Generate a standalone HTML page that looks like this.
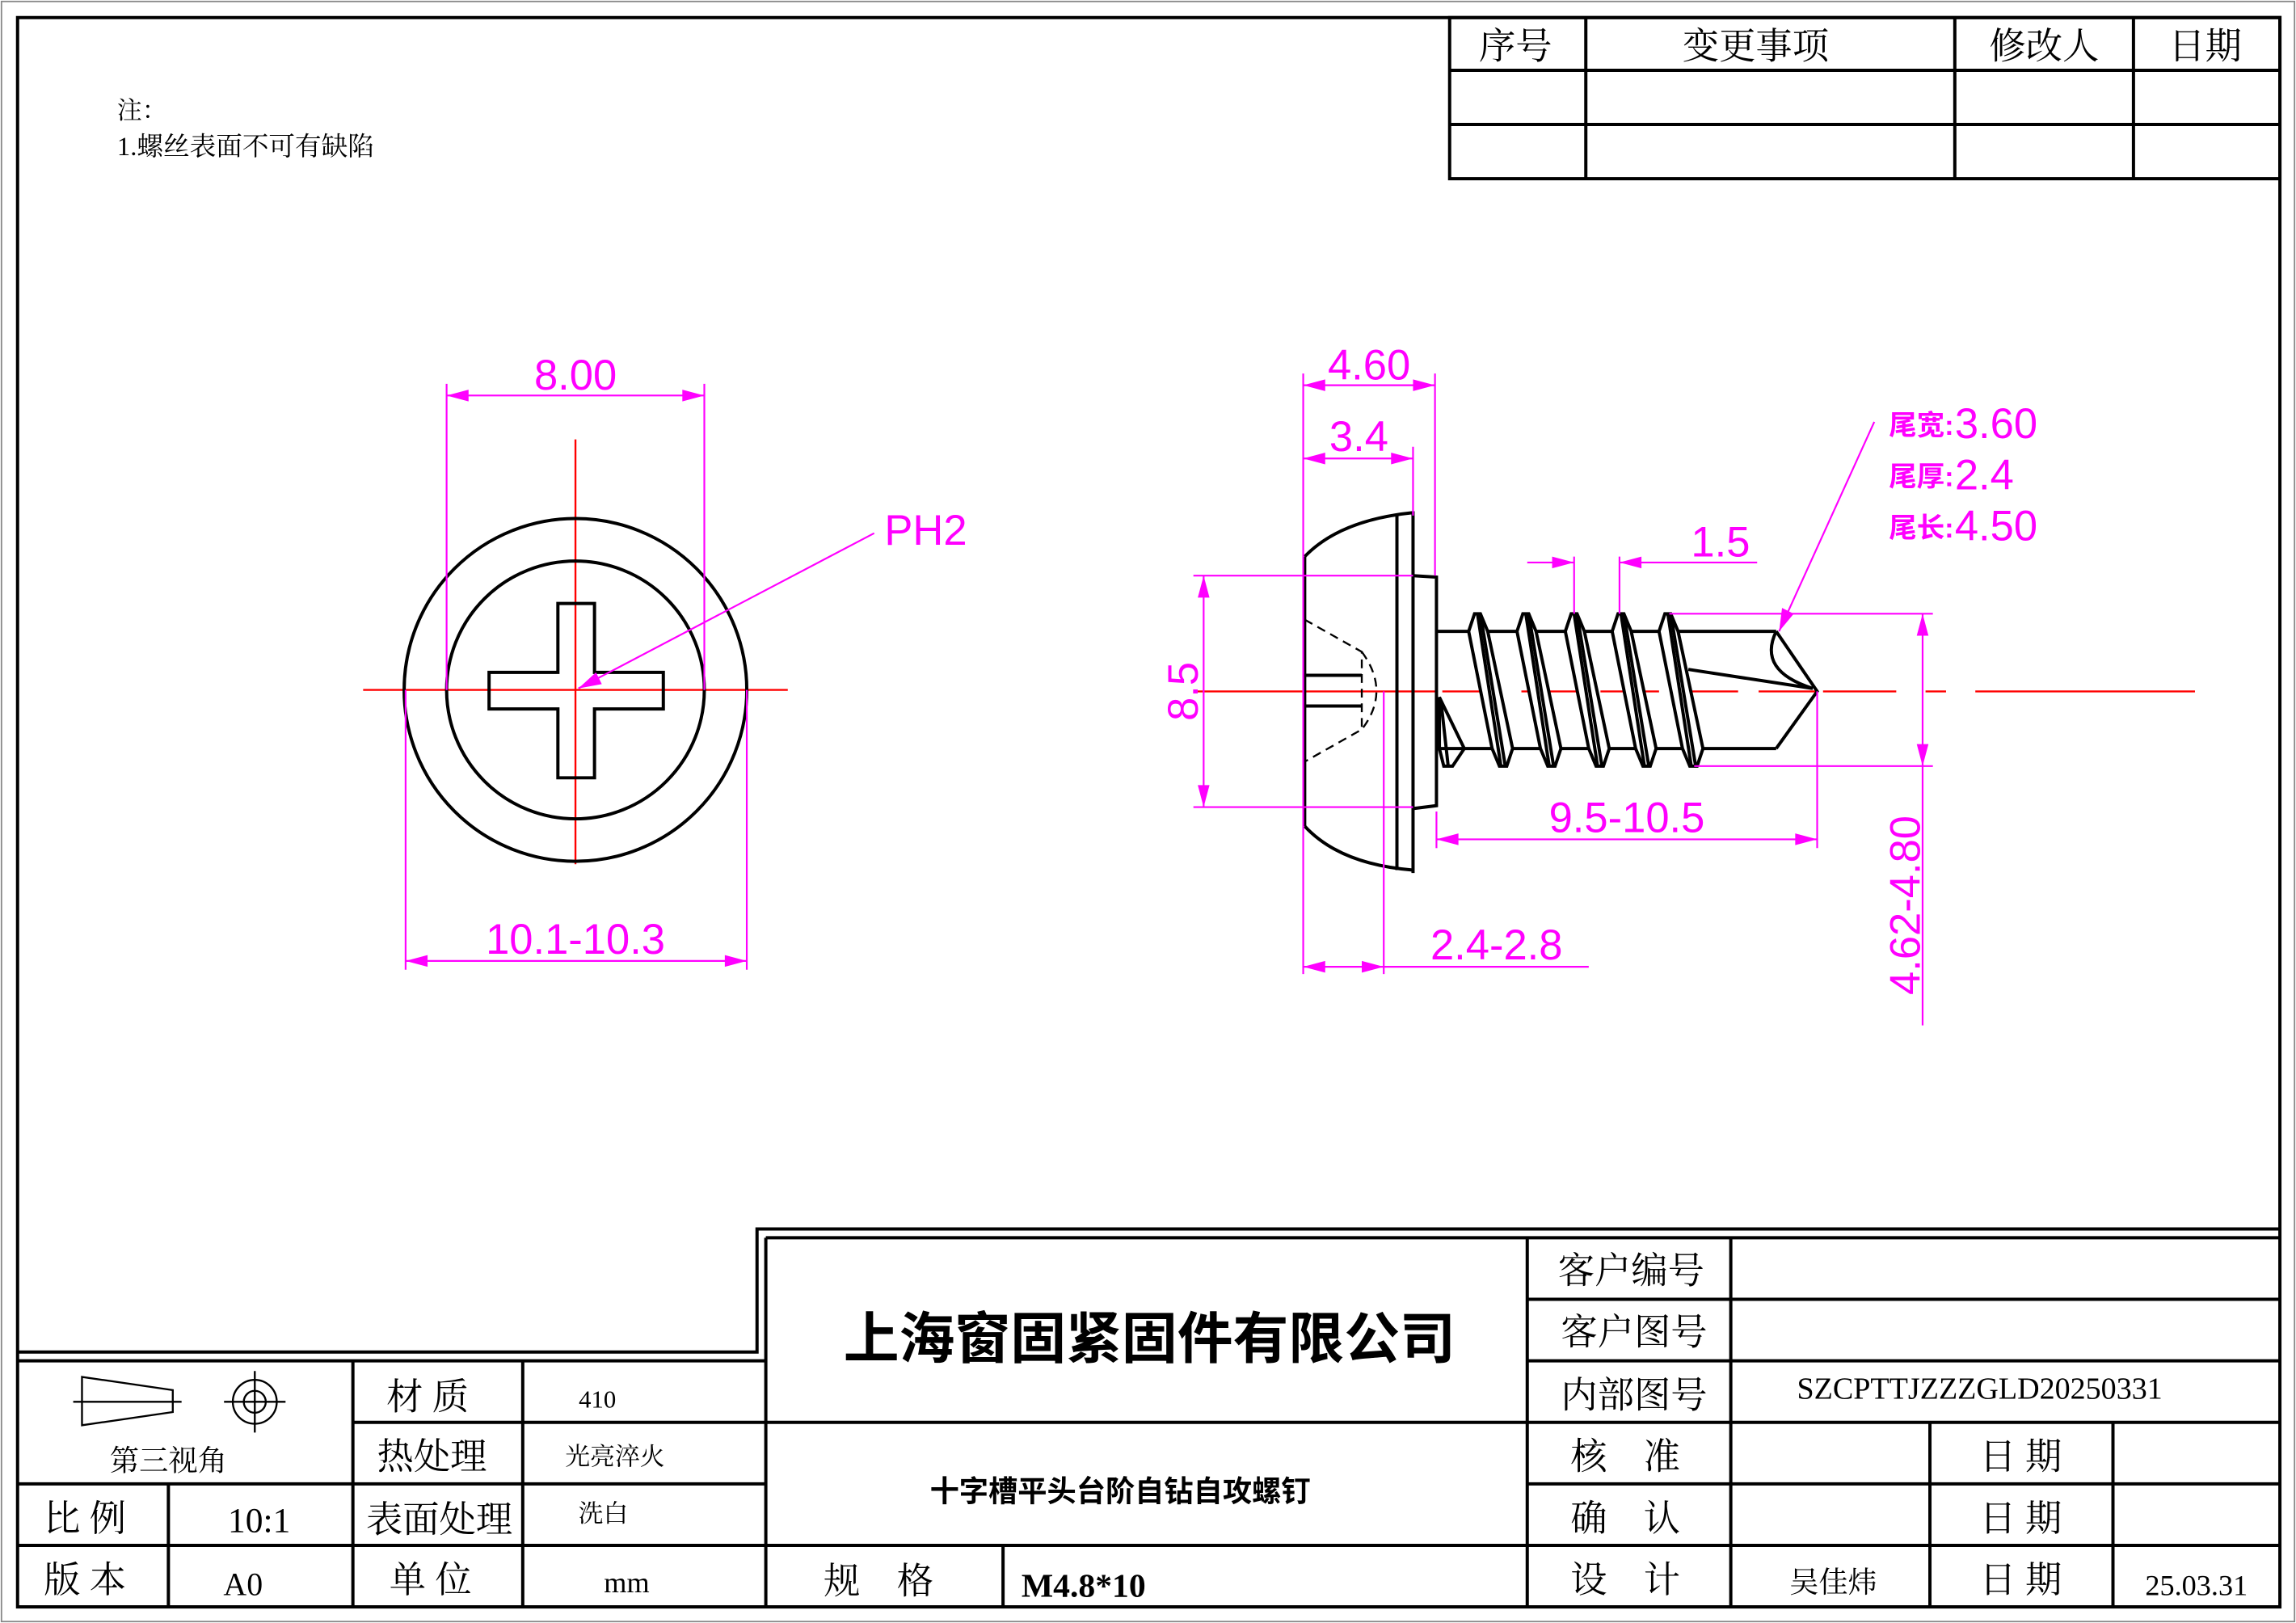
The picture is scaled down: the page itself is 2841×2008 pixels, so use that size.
<!DOCTYPE html>
<html><head><meta charset="utf-8"><style>
html,body{margin:0;padding:0;background:#fff;}
svg{display:block;}
.k{stroke:#000;fill:none;stroke-width:2.2;}
.kt{stroke:#000;fill:none;stroke-width:1.3;}
.m{stroke:#f0f;fill:none;stroke-width:1.2;}
.r{stroke:#f00;fill:none;stroke-width:1.3;}
.mt{fill:#f0f;font-family:"Liberation Sans",sans-serif;font-size:29px;}
.mc{fill:#f0f;font-family:"Liberation Sans","Noto Sans CJK SC",sans-serif;font-size:19px;font-weight:bold;}
.s{font-family:"Liberation Serif","Noto Serif CJK SC",serif;fill:#000;}
.ah{fill:#f0f;stroke:none;}
</style></head><body>
<svg width="2841" height="2008" viewBox="0 0 1568 1108" preserveAspectRatio="none" xmlns="http://www.w3.org/2000/svg">
<rect x="0" y="0" width="1568" height="1108" fill="#fff"/>
<rect x="1" y="1" width="1566" height="1106" fill="none" stroke="#888" stroke-width="1"/>
<rect x="12" y="12" width="1545" height="1085" class="k" stroke-width="2"/>

<!-- revision table -->
<g class="k" stroke-width="2">
<rect x="990" y="12" width="567" height="110"/>
<line x1="990" y1="48" x2="1557" y2="48"/><line x1="990" y1="85" x2="1557" y2="85"/>
<line x1="1083" y1="12" x2="1083" y2="122"/><line x1="1335" y1="12" x2="1335" y2="122"/><line x1="1457" y1="12" x2="1457" y2="122"/>
</g>
<g class="s" font-size="25" text-anchor="middle">
<text x="1035" y="40">序号</text><text x="1199" y="40">变更事项</text><text x="1396" y="40">修改人</text><text x="1506" y="40">日期</text>
</g>
<text class="s" x="80" y="81" font-size="17">注：</text>
<text class="s" x="80" y="106" font-size="18">1.螺丝表面不可有缺陷</text>

<!-- title block -->
<g class="k" stroke-width="2">
<polyline points="12,923 517,923 517,839 1557,839"/>
<line x1="12" y1="929" x2="523" y2="929"/>
<line x1="523" y1="845" x2="1557" y2="845"/>
<line x1="523" y1="845" x2="523" y2="1097"/>
<line x1="12" y1="1097" x2="1557" y2="1097"/>
<line x1="241" y1="971" x2="523" y2="971"/>
<line x1="12" y1="1013" x2="523" y2="1013"/>
<line x1="12" y1="1055" x2="1557" y2="1055"/>
<line x1="115" y1="1013" x2="115" y2="1097"/>
<line x1="241" y1="929" x2="241" y2="1097"/>
<line x1="357" y1="929" x2="357" y2="1097"/>
<line x1="523" y1="971" x2="1557" y2="971"/>
<line x1="685" y1="1055" x2="685" y2="1097"/>
<line x1="1043" y1="845" x2="1043" y2="1097"/>
<line x1="1182" y1="845" x2="1182" y2="1097"/>
<line x1="1318" y1="971" x2="1318" y2="1097"/>
<line x1="1443" y1="971" x2="1443" y2="1097"/>
<line x1="1043" y1="887" x2="1557" y2="887"/>
<line x1="1043" y1="929" x2="1557" y2="929"/>
<line x1="1043" y1="1013" x2="1557" y2="1013"/>
</g>
<!-- third angle symbol -->
<g class="kt" stroke-width="1.4">
<polygon points="56,940 118,949 118,964 56,973"/>
<line x1="50" y1="957" x2="124" y2="957"/>
<circle cx="174" cy="957" r="15"/><circle cx="174" cy="957" r="7.5"/>
<line x1="153" y1="957" x2="195" y2="957"/><line x1="174" y1="936" x2="174" y2="978"/>
</g>
<g class="s" text-anchor="middle">
<text x="115" y="1004" font-size="20">第三视角</text>
<text x="292" y="962" font-size="25">材 质</text>
<text x="408" y="961" font-size="17">410</text>
<text x="295" y="1003" font-size="25">热处理</text>
<text x="420" y="1000" font-size="17">光亮淬火</text>
<text x="58" y="1045" font-size="25">比 例</text>
<text x="177" y="1046" font-size="24">10:1</text>
<text x="300" y="1046" font-size="25">表面处理</text>
<text x="412" y="1039" font-size="17">洗白</text>
<text x="58" y="1087" font-size="25">版 本</text>
<text x="166" y="1089" font-size="22">A0</text>
<text x="294" y="1087" font-size="25">单 位</text>
<text x="428" y="1087" font-size="20">mm</text>
<text x="785" y="927" font-size="38" font-weight="bold" font-family="'Noto Sans CJK SC',sans-serif">上海窗固紧固件有限公司</text>
<text x="765" y="1025" font-size="20" font-weight="bold" font-family="'Noto Sans CJK SC',sans-serif">十字槽平头台阶自钻自攻螺钉</text>
<text x="600" y="1088" font-size="25">规　格</text>
<text x="740" y="1090" font-size="23" font-weight="bold">M4.8*10</text>
<text x="1114" y="876" font-size="25">客户编号</text>
<text x="1116" y="918" font-size="25">客户图号</text>
<text x="1116" y="961" font-size="25">内部图号</text>
<text x="1352" y="955" font-size="21">SZCPTTJZZZGLD20250331</text>
<text x="1110" y="1003" font-size="25">核　准</text>
<text x="1110" y="1045" font-size="25">确　认</text>
<text x="1110" y="1087" font-size="25">设　计</text>
<text x="1380" y="1003" font-size="25">日 期</text>
<text x="1380" y="1045" font-size="25">日 期</text>
<text x="1380" y="1087" font-size="25">日 期</text>
<text x="1252" y="1087" font-size="20">吴佳炜</text>
<text x="1500" y="1089" font-size="20">25.03.31</text>
</g>

<!-- front view -->
<line class="r" x1="248" y1="471" x2="538" y2="471"/>
<line class="r" x1="393" y1="300" x2="393" y2="590"/>
<g class="k">
<circle cx="393" cy="471" r="117"/>
<circle cx="393" cy="471" r="88"/>
<polygon points="381,412 406,412 406,459 453,459 453,484 406,484 406,531 381,531 381,484 334,484 334,459 381,459"/>
</g>
<g class="m">
<line x1="305" y1="262" x2="305" y2="471"/><line x1="481" y1="262" x2="481" y2="471"/>
<line x1="305" y1="270" x2="481" y2="270"/>
<line x1="277" y1="471" x2="277" y2="662"/><line x1="510" y1="471" x2="510" y2="662"/>
<line x1="277" y1="656" x2="510" y2="656"/>
<polyline points="395,470 597,364"/>
</g>
<g class="ah">
<polygon points="305,270 320,266 320,274"/><polygon points="481,270 466,266 466,274"/>
<polygon points="277,656 292,652 292,660"/><polygon points="510,656 495,652 495,660"/>
<polygon points="395,470 407,459 411,467"/>
</g>
<text class="mt" x="393" y="266" text-anchor="middle">8.00</text>
<text class="mt" x="393" y="651" text-anchor="middle">10.1-10.3</text>
<text class="mt" x="604" y="372">PH2</text>

<!-- side view -->
<line class="r" x1="815" y1="472" x2="982" y2="472"/>
<line class="r" x1="985" y1="472" x2="1245" y2="472" stroke-dasharray="40,14"/>
<line class="r" x1="1245" y1="472" x2="1535" y2="472" stroke-dasharray="50,20,14,20,150"/>
<g class="k">
<path d="M891,380 Q915,355 965,350"/>
<path d="M891,564 Q915,590 965,594"/>
<line x1="891" y1="380" x2="891" y2="564"/>
<line x1="954" y1="351" x2="954" y2="594"/>
<line x1="965" y1="349" x2="965" y2="596"/>
<polyline points="965,393 981,394 981,550 965,552"/>
<line x1="891" y1="461" x2="930" y2="461"/><line x1="891" y1="482" x2="930" y2="482"/>
<line x1="981" y1="431" x2="1213" y2="431"/>
<line x1="981" y1="511" x2="1213" y2="511"/>
<polyline points="1213,431 1241,472 1213,511"/>
<path d="M1213,431 Q1200,458 1238,470"/>
<line x1="1153" y1="457" x2="1238" y2="470"/>
<polygon points="983,476 1000,511 992,523 986,523 983,511"/>
<line x1="984" y1="478" x2="989" y2="523"/>
</g>
<g class="kt" stroke-dasharray="6,4" stroke-width="1.5">
<polyline points="891,423 930,445 930,498 891,520"/>
<path d="M930,445 Q950,472 930,498"/>
</g>
<g class="k" stroke-width="2" fill="#fff">
<g id="th">
<polygon points="1003,431 1007,419 1011,419 1016,431 1033,511 1029,523 1024,523 1019,511" fill="#fff"/>
<line x1="1009" y1="419" x2="1025" y2="523"/><line x1="1011" y1="419" x2="1028" y2="523"/>
</g>
<use href="#th" x="33"/><use href="#th" x="66"/><use href="#th" x="98"/><use href="#th" x="130"/>
</g>
<g class="m">
<line x1="890" y1="255" x2="890" y2="665"/><line x1="980" y1="255" x2="980" y2="393"/>
<line x1="890" y1="263" x2="980" y2="263"/>
<line x1="965" y1="305" x2="965" y2="352"/>
<line x1="890" y1="313" x2="965" y2="313"/>
<line x1="815" y1="393" x2="965" y2="393"/><line x1="815" y1="551" x2="965" y2="551"/>
<line x1="822" y1="393" x2="822" y2="551"/>
<line x1="1075" y1="380" x2="1075" y2="419"/><line x1="1106" y1="380" x2="1106" y2="419"/>
<line x1="1043" y1="384" x2="1075" y2="384"/><line x1="1106" y1="384" x2="1200" y2="384"/>
<line x1="981" y1="554" x2="981" y2="579"/><line x1="1241" y1="472" x2="1241" y2="579"/>
<line x1="981" y1="573" x2="1241" y2="573"/>
<line x1="945" y1="472" x2="945" y2="665"/>
<line x1="890" y1="660" x2="1085" y2="660"/>
<line x1="1140" y1="419" x2="1320" y2="419"/><line x1="1157" y1="523" x2="1320" y2="523"/>
<line x1="1313" y1="419" x2="1313" y2="700"/>
<line x1="1280" y1="288" x2="1215" y2="431"/>
</g>
<g class="ah">
<polygon points="890,263 905,259 905,267"/><polygon points="980,263 965,259 965,267"/>
<polygon points="890,313 905,309 905,317"/><polygon points="965,313 950,309 950,317"/>
<polygon points="822,393 818,408 826,408"/><polygon points="822,551 818,536 826,536"/>
<polygon points="1075,384 1060,380 1060,388"/><polygon points="1106,384 1121,380 1121,388"/>
<polygon points="981,573 996,569 996,577"/><polygon points="1241,573 1226,569 1226,577"/>
<polygon points="890,660 905,656 905,664"/><polygon points="945,660 930,656 930,664"/>
<polygon points="1313,419 1309,434 1317,434"/><polygon points="1313,523 1309,508 1317,508"/>
<polygon points="1215,431 1217,415 1225,419"/>
</g>
<text class="mt" x="935" y="259" text-anchor="middle">4.60</text>
<text class="mt" x="928" y="308" text-anchor="middle">3.4</text>
<text class="mt" x="1175" y="380" text-anchor="middle">1.5</text>
<text class="mt" x="1111" y="568" text-anchor="middle">9.5-10.5</text>
<text class="mt" x="1022" y="655" text-anchor="middle">2.4-2.8</text>
<text class="mt" transform="translate(818,472) rotate(-90)" text-anchor="middle">8.5</text>
<text class="mt" transform="translate(1311,618) rotate(-90)" text-anchor="middle">4.62-4.80</text>
<text class="mc" x="1290" y="297">尾宽:</text><text class="mt" x="1335" y="299">3.60</text>
<text class="mc" x="1290" y="332">尾厚:</text><text class="mt" x="1335" y="334">2.4</text>
<text class="mc" x="1290" y="367">尾长:</text><text class="mt" x="1335" y="369">4.50</text>
</svg>
</body></html>
